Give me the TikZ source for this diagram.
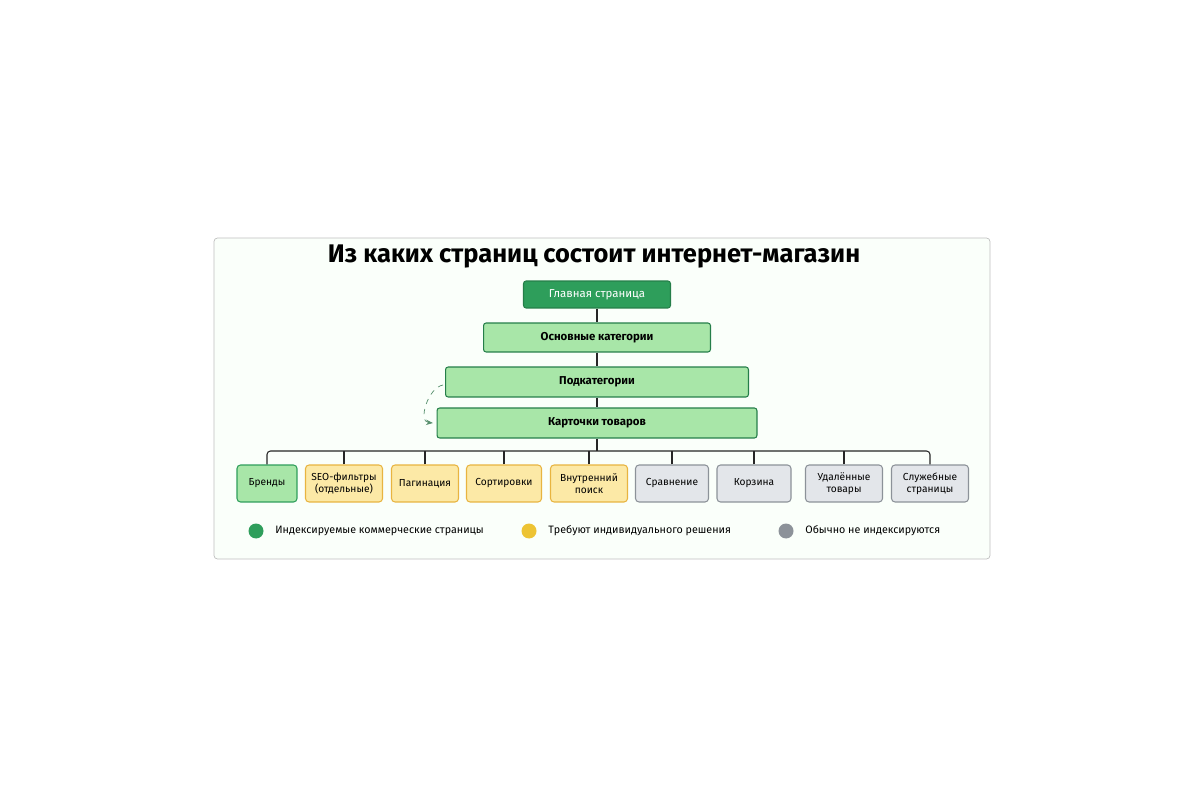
\documentclass[tikz,border=0pt]{standalone}
\usepackage{fontspec}
\setmainfont{Fira Sans}
\usetikzlibrary{positioning, arrows.meta, calc}
\definecolor{dkgreen}{HTML}{2E9E5B}
\definecolor{ltgreen}{HTML}{A8E6A8}
\definecolor{ltyellow}{HTML}{FCE9A6}
\definecolor{dkyellow}{HTML}{E8B440}
\definecolor{ltgray}{HTML}{E3E6EA}
\definecolor{dkgray}{HTML}{8C9299}
\begin{document}
\begin{tikzpicture}[
		x=0.02cm, y=-0.02cm,
		every node/.style={font=\fontsize{5.8}{6.8}\selectfont, align=center, inner sep=0pt},
		level/.style={rectangle, rounded corners=1.5pt, draw=dkgreen!80!black, fill=ltgreen, line width=0.6pt, font=\fontsize{6.5}{8}\selectfont\bfseries},
		green/.style={rectangle, rounded corners=2pt, draw=dkgreen, fill=ltgreen, line width=0.6pt, minimum height=0.74cm},
		yellow/.style={green, draw=dkyellow, fill=ltyellow},
		gray/.style={green, draw=dkgray, fill=ltgray},
		dot/.style={circle, minimum size=0.3cm},
		legend/.style={anchor=west, font=\fontsize{6.1}{8}\selectfont},
		link/.style={line width=0.6pt, draw=black!85}
		]
		\useasboundingbox (0,0) rectangle (1200,800);
		\draw[black!25, fill=green!2, rounded corners=2pt] (214,238) rectangle (990,559);
		
		% Title
		\node[font=\fontsize{14.5}{16}\selectfont\bfseries] (title) at (594,257) {Из каких страниц состоит интернет-магазин};
		
		% Levels
		\node[level, fill=dkgreen, text=white, font=\fontsize{6.5}{8}\selectfont, minimum width=2.94cm, minimum height=0.54cm] (home) at (597,294.5) {Главная страница};
		\node[level, minimum width=4.54cm, minimum height=0.58cm] (cat) at (597,337.5) {Основные категории};
		\node[level, minimum width=6.06cm, minimum height=0.6cm] (sub) at (597,382) {Подкатегории};
		\node[level, minimum width=6.4cm, minimum height=0.6cm] (card) at (597,423) {Карточки товаров};
		
		\draw[link] (home) -- (cat);
		\draw[link] (cat) -- (sub);
		\draw[link] (sub) -- (card);
		\draw[-{Stealth[length=4pt]}, dashed, dkgreen!50!gray] (sub.west) ++(-2,3) coordinate (loop) to[out=190, in=175] ([xshift=-2pt]card.west);
		
		% Page types
		\node[green, minimum width=1.2cm] (brand) at (267,483.5) {Бренды};
		\node[yellow, minimum width=1.54cm] (seo) at (344,483.5) {SEO-фильтры\\(отдельные)};
		\node[yellow, minimum width=1.34cm] (pag) at (425,483.5) {Пагинация};
		\node[yellow, minimum width=1.5cm] (sort) at (504,483.5) {Сортировки};
		\node[yellow, minimum width=1.54cm] (search) at (589,483.5) {Внутренний\\поиск};
		\node[gray, minimum width=1.46cm] (cmp) at (672,483.5) {Сравнение};
		\node[gray, minimum width=1.48cm] (cart) at (754,483.5) {Корзина};
		\node[gray, minimum width=1.54cm] (del) at (844,483.5) {Удалённые\\товары};
		\node[gray, minimum width=1.54cm] (serv) at (930,483.5) {Служебные\\страницы};
		
		\coordinate (bus) at (597,451);
		\draw[link] (card) -- (bus);
		\draw[link, rounded corners=2pt] (brand.north) |- (bus) -| (serv.north);
		\foreach \n in {seo, pag, sort, search, cmp, cart, del}
			\draw[link] (\n.north) -- (\n.north |- bus);
		
		% Legend
		\node[dot, fill=dkgreen] (lg1) at (256,531) {};
		\node[legend] at (275,531) {Индексируемые коммерческие страницы};
		\node[dot, fill=dkyellow!80!yellow] (lg2) at (529,531) {};
		\node[legend] at (548,531) {Требуют индивидуального решения};
		\node[dot, fill=dkgray] (lg3) at (786,531) {};
		\node[legend] at (805,531) {Обычно не индексируются};
	\end{tikzpicture}
\end{document}
